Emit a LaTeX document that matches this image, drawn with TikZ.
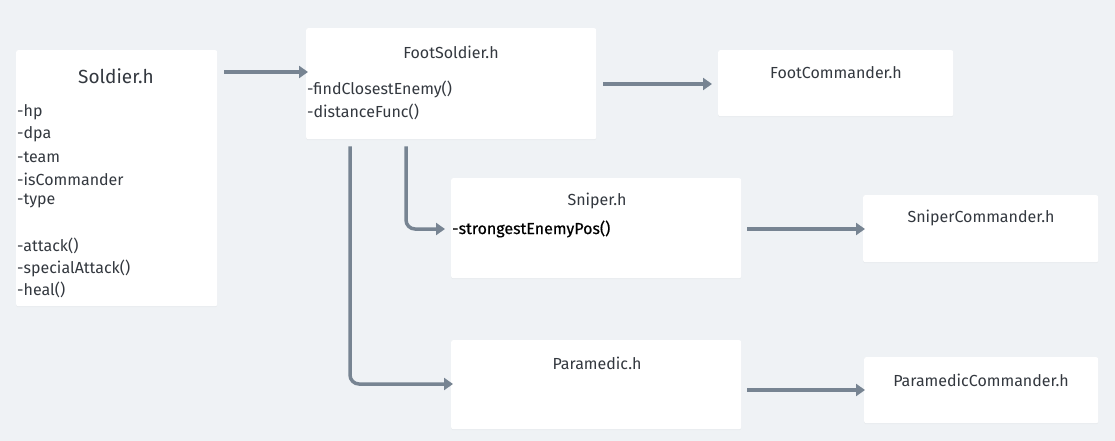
\documentclass[tikz,border=0pt]{standalone}
\usepackage{fontspec}
\setmainfont{Fira Sans}
\newfontfamily\semib[FakeBold=0.5]{Fira Sans}
\usetikzlibrary{arrows.meta,shadows}
\definecolor{bg}{HTML}{EFF2F5}
\definecolor{arrowc}{HTML}{778492}
\definecolor{txt}{HTML}{33383F}
\tikzset{
  box/.style={draw=none,fill=white,rounded corners=2pt,anchor=north west,inner sep=0pt,
    drop shadow={shadow xshift=0pt,shadow yshift=-1pt,opacity=0.06}},
  title/.style={text=txt,font=\fontsize{16}{18}\selectfont,inner sep=0pt},
  item/.style={text=txt,font=\fontsize{16}{18}\selectfont,inner sep=0pt,anchor=west},
  arr/.style={draw=arrowc,line width=3.5pt,-{Triangle[length=9pt,width=12pt]},rounded corners=9pt}
}
\begin{document}
\begin{tikzpicture}[x=1pt,y=-1pt]
\fill[bg] (0,0) rectangle (1115,441);
\useasboundingbox (0,0) rectangle (1115,441);
% boxes
\node[box,minimum width=201pt,minimum height=256pt] (soldier) at (16,50) {};
\node[box,minimum width=290pt,minimum height=111pt] (foot) at (306,28) {};
\node[box,minimum width=235pt,minimum height=66pt] (footc) at (718,50) {};
\node[box,minimum width=290pt,minimum height=100pt] (sniper) at (451,178) {};
\node[box,minimum width=235pt,minimum height=67pt] (sniperc) at (863,195) {};
\node[box,minimum width=290pt,minimum height=89pt] (para) at (451,340) {};
\node[box,minimum width=234pt,minimum height=66pt] (parac) at (864,357) {};
% Soldier
\node[title,font=\fontsize{19}{21}\selectfont] (soldiert) at (116,76) {Soldier.h};
\node[item] (s1) at (17,112) {-hp};
\node[item] (s2) at (17,134) {-dpa};
\node[item] (s3) at (17,157) {-team};
\node[item] (s4) at (17,179) {-isCommander};
\node[item] (s5) at (17,201) {-type};
\node[item] (s6) at (17,246) {-attack()};
\node[item] (s7) at (17,268) {-specialAttack()};
\node[item] (s8) at (17,290) {-heal()};
% FootSoldier
\node[title] (foott) at (451,52) {FootSoldier.h};
\node[item] (f1) at (307,89) {-findClosestEnemy()};
\node[item] (f2) at (307,112) {-distanceFunc()};
% others
\node[title] (footct) at (836,73) {FootCommander.h};
\node[title] (snipert) at (597,201) {Sniper.h};
\node[item,text=black,font=\semib\fontsize{16}{18}\selectfont] (sn1) at (452,229) {-strongestEnemyPos()};
\node[title] (snipercit) at (981,218) {SniperCommander.h};
\node[title] (parat) at (597,363) {Paramedic.h};
\node[title] (paract) at (981,380) {ParamedicCommander.h};
% arrows
\draw[arr] ([shift={(7,22)}]soldier.north east) -- ([shift={(2,44)}]foot.north west);
\draw[arr] ([shift={(7,56)}]foot.north east) -- ([shift={(-6,34)}]footc.north west);
\draw[arr] ([shift={(100,7)}]foot.south west) |- ([shift={(-6,51)}]sniper.north west);
\draw[arr] ([shift={(44,7)}]foot.south west) |- ([shift={(2,44)}]para.north west);
\draw[arr] ([shift={(6,51)}]sniper.north east) -- ([shift={(2,34)}]sniperc.north west);
\draw[arr] ([shift={(6,50)}]para.north east) -- ([shift={(1,33)}]parac.north west);
\end{tikzpicture}
\end{document}
